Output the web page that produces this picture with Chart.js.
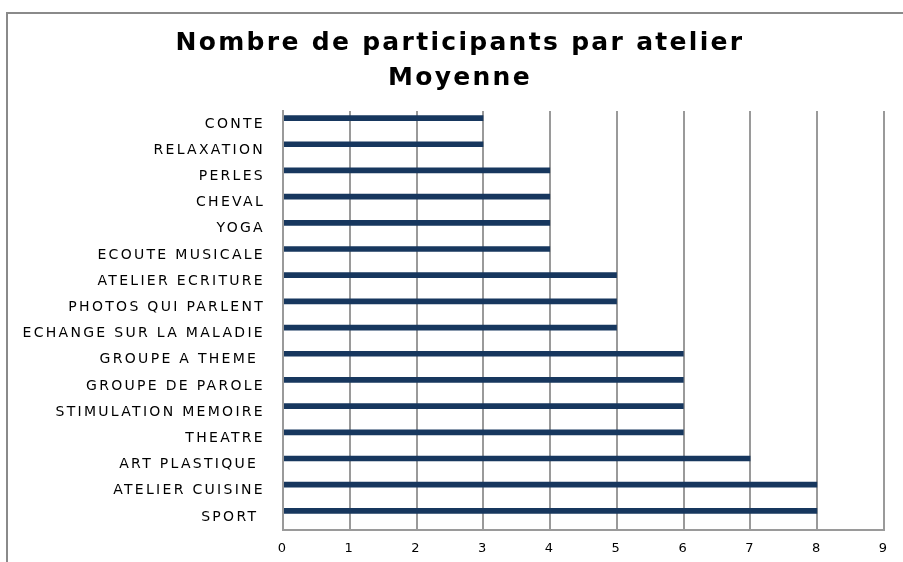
<!DOCTYPE html>
<html>
<head>
<meta charset="utf-8">
<script src="https://cdn.jsdelivr.net/npm/chart.js@4"></script>
<style>
  html, body { margin: 0; padding: 0; background: #fff; overflow: hidden; }
  #cadre { position: absolute; left: 6px; top: 12px; width: 1000px; height: 700px;
           border-left: 2px solid #8a8a8a; border-top: 2px solid #8a8a8a; }
  #zone { position: absolute; left: 0; top: 0; width: 903px; height: 562px; }
</style>
</head>
<body>
<div id="cadre"></div>
<div id="zone"><canvas id="graphique"></canvas></div>
<script>
// ---- données ----
const ateliers = [
  'CONTE', 'RELAXATION', 'PERLES', 'CHEVAL', 'YOGA', 'ECOUTE MUSICALE',
  'ATELIER ECRITURE', 'PHOTOS QUI PARLENT', 'ECHANGE SUR LA MALADIE',
  'GROUPE A THEME ', 'GROUPE DE PAROLE', 'STIMULATION MEMOIRE', 'THEATRE',
  'ART PLASTIQUE ', 'ATELIER CUISINE', 'SPORT '
];
const moyenne = [3, 3, 4, 4, 4, 4, 5, 5, 5, 6, 6, 6, 6, 7, 8, 8];
// seconde série vide (place réservée sous chaque barre)
const serieVide = ateliers.map(() => null);
const titre = ['Nombre de participants par atelier', 'Moyenne'];
const xMin = 0;
const xMax = 9;

// texte espacé comme dans l'original
const espacement = {
  id: 'espacement',
  beforeDraw(chart) { chart.ctx.letterSpacing = '2.3px'; }
};

new Chart(document.getElementById('graphique'), {
  type: 'bar',
  data: {
    labels: ateliers,
    datasets: [
      { label: 'Moyenne', data: moyenne, backgroundColor: '#17375e',
        barPercentage: 0.47, categoryPercentage: 0.92 },
      { label: '', data: serieVide, backgroundColor: '#17375e',
        barPercentage: 0.47, categoryPercentage: 0.92 }
    ]
  },
  options: {
    indexAxis: 'y',
    responsive: true,
    maintainAspectRatio: false,
    animation: false,
    layout: { padding: { left: 18, right: 1, top: 0, bottom: 0 } },
    plugins: {
      legend: { display: false },
      tooltip: { enabled: false },
      title: {
        display: true,
        text: titre,
        color: '#000',
        font: { family: 'DejaVu Sans', size: 25, weight: 'bold', lineHeight: 1.4 },
        padding: { top: 26, bottom: 15 }
      }
    },
    scales: {
      x: {
        min: xMin,
        max: xMax,
        ticks: { stepSize: 1, color: '#000', padding: 11,
                 font: { family: 'DejaVu Sans', size: 13 } },
        grid: { color: '#9a9a9a', lineWidth: 2, drawTicks: false },
        border: { display: true, color: '#9a9a9a', width: 2 },
        afterFit(s) { s.height = 32; s.paddingRight = 19; }
      },
      y: {
        ticks: { color: '#000', padding: 18, autoSkip: false,
                 font: { family: 'DejaVu Sans', size: 14 } },
        grid: { display: false, drawTicks: false },
        border: { display: true, color: '#9a9a9a', width: 2 },
        afterFit(s) { s.width = 265; }
      }
    }
  },
  plugins: [espacement]
});
</script>
</body>
</html>
